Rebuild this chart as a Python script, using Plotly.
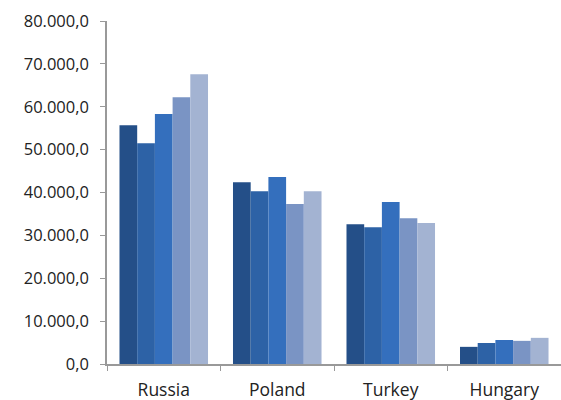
import plotly.graph_objects as go

categories = ["Russia", "Poland", "Turkey", "Hungary"]
series_names = ["Series 1", "Series 2", "Series 3", "Series 4", "Series 5"]
s1 = [55700, 42400, 32600, 4000]
s2 = [51500, 40300, 31900, 4900]
s3 = [58300, 43600, 37800, 5600]
s4 = [62200, 37300, 34000, 5400]
s5 = [67600, 40300, 32900, 6100]
series_values = [s1, s2, s3, s4, s5]
colors = ["#244f88", "#2d62a6", "#346fbd", "#7a94c4", "#a3b3d2"]
y_ticks = [0, 10000, 20000, 30000, 40000, 50000, 60000, 70000, 80000]

fig = go.Figure()
for name, vals, c in zip(series_names, series_values, colors):
    fig.add_trace(go.Bar(x=categories, y=vals, name=name, marker=dict(color=c, line=dict(width=0))))

fig.update_layout(
    width=561, height=400,
    margin=dict(l=107, r=0, t=21, b=36),
    barmode="group", bargap=0.22, bargroupgap=0,
    plot_bgcolor="white", paper_bgcolor="white",
    showlegend=False,
    separators=",.",
    font=dict(family="Open Sans", size=16.5, color="#222"),
)
fig.update_yaxes(range=[0, 80000], tickvals=y_ticks, tickformat=",.1f",
                 showgrid=False, zeroline=False, showline=True, linecolor="#999", linewidth=1.5,
                 ticks="outside", ticklen=5, tickcolor="#999", ticklabelstandoff=8)
fig.update_xaxes(showgrid=False, showline=True, linecolor="#999", linewidth=1.5,
                 ticks="outside", ticklen=5, tickcolor="#999", tickson="boundaries",
                 tickfont=dict(size=17.5), ticklabelstandoff=9)
fig.write_html("out.html")
